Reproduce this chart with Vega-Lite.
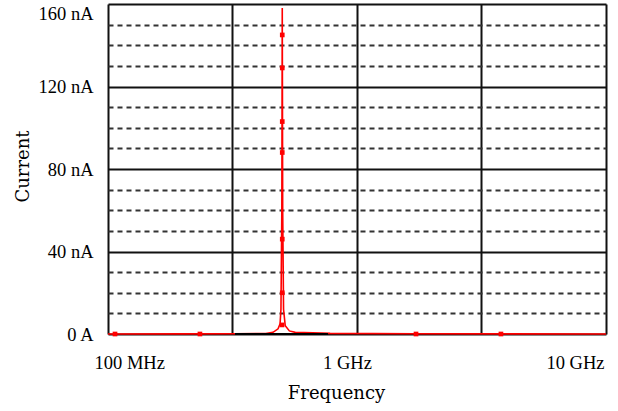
{
  "$schema": "https://vega.github.io/schema/vega-lite/v6.json",
  "autosize": {"type": "none"},
  "padding": {"left": 108, "top": 4, "right": 12, "bottom": 77},
  "width": 498,
  "height": 330,
  "background": "white",
  "config": {"view": {"stroke": null}},
  "datasets": {
    "red": [
      {"f": 1.0e8, "i": 0.0},
      {"f": 2.0e8, "i": 0.05},
      {"f": 3.2e8, "i": 0.1},
      {"f": 4.3e8, "i": 0.2},
      {"f": 4.6e8, "i": 0.8},
      {"f": 4.82e8, "i": 2.5},
      {"f": 4.91e8, "i": 5.0},
      {"f": 4.95e8, "i": 12.0},
      {"f": 4.99e8, "i": 60.0},
      {"f": 5.01e8, "i": 158.0},
      {"f": 5.03e8, "i": 60.0},
      {"f": 5.07e8, "i": 12.0},
      {"f": 5.15e8, "i": 4.0},
      {"f": 5.35e8, "i": 1.5},
      {"f": 5.65e8, "i": 0.8},
      {"f": 7.8e8, "i": 0.3},
      {"f": 1.7e9, "i": 0.1},
      {"f": 1.0e10, "i": 0.0}
    ],
    "markers": [
      {"f": 1.067e8, "i": 0},
      {"f": 2.34e8, "i": 0},
      {"f": 5.01e8, "i": 145},
      {"f": 5.01e8, "i": 129},
      {"f": 5.01e8, "i": 103},
      {"f": 5.01e8, "i": 88},
      {"f": 5.01e8, "i": 46},
      {"f": 5.01e8, "i": 20},
      {"f": 5.0e8, "i": 4.4},
      {"f": 1.726e9, "i": 0},
      {"f": 3.785e9, "i": 0}
    ],
    "black": [
      {"f": 3.236e8, "i": 0},
      {"f": 5.0e8, "i": 0},
      {"f": 7.65e8, "i": 0}
    ]
  },
  "encoding": {
    "x": {
      "field": "f",
      "type": "quantitative",
      "scale": {"type": "log", "domain": [1e8, 1e10], "nice": false},
      "axis": {
        "title": "Frequency",
        "titleFont": "DejaVu Serif",
        "titleFontSize": 18,
        "titleFontWeight": "normal",
        "titleColor": "#000",
        "titleX": 228,
        "titleY": 64,
        "titleAlign": "center",
        "titleBaseline": "alphabetic",
        "values": [1e8, 316227766, 1e9, 3162277660, 1e10],
        "grid": true,
        "gridColor": "#111",
        "gridWidth": 2,
        "ticks": false,
        "tickSize": 0,
        "domain": false,
        "labelOverlap": false,
        "labelBound": false,
        "labelFlush": false,
        "labelFont": "Liberation Serif",
        "labelFontSize": 18.5,
        "labelColor": "#000",
        "labelPadding": 34,
        "labelBaseline": "alphabetic",
        "labelAlign": {"condition": [{"test": "datum.value < 2e8", "value": "left"}, {"test": "datum.value > 5e9", "value": "right"}], "value": "center"},
        "labelOffset": {"condition": [{"test": "datum.value < 2e8", "value": -14}, {"test": "datum.value > 5e9", "value": -2}], "value": -10},
        "labelExpr": "datum.value == 1e8 ? '100 MHz' : datum.value == 1e9 ? '1 GHz' : datum.value == 1e10 ? '10 GHz' : ''"
      }
    },
    "y": {
      "field": "i",
      "type": "quantitative",
      "scale": {"domain": [0, 160], "nice": false},
      "axis": {
        "title": "Current",
        "titleFont": "DejaVu Serif",
        "titleFontSize": 18,
        "titleFontWeight": "normal",
        "titleColor": "#000",
        "titleX": -85,
        "titleY": 162,
        "titleAngle": -90,
        "titleAlign": "center",
        "titleBaseline": "middle",
        "values": [0, 10, 20, 30, 40, 50, 60, 70, 80, 90, 100, 110, 120, 130, 140, 150, 160],
        "grid": true,
        "gridColor": {"condition": {"test": "datum.value % 40 === 0", "value": "#111"}, "value": "#333"},
        "gridWidth": 2,
        "gridDash": {"condition": {"test": "datum.value % 40 === 0", "value": [1, 0]}, "value": [5, 4]},
        "ticks": false,
        "tickSize": 0,
        "domain": false,
        "labelOverlap": false,
        "labelBound": false,
        "labelFlush": false,
        "labelFont": "Liberation Serif",
        "labelFontSize": 18.5,
        "labelColor": "#000",
        "labelPadding": 15,
        "labelAlign": "right",
        "labelBaseline": {"condition": {"test": "datum.value >= 160", "value": "top"}, "value": "middle"},
        "labelExpr": "datum.value == 0 ? '0 A' : (datum.value % 40 == 0 ? datum.value + ' nA' : '')"
      }
    }
  },
  "layer": [
    {
      "data": {"name": "red"},
      "mark": {"type": "line", "color": "#ff0000", "strokeWidth": 1.6, "interpolate": "linear"}
    },
    {
      "data": {"name": "black"},
      "mark": {"type": "line", "color": "#000000", "strokeWidth": 2}
    },
    {
      "data": {"name": "markers"},
      "mark": {"type": "square", "color": "#ff0000", "filled": true, "opacity": 1, "size": 22}
    }
  ]
}
